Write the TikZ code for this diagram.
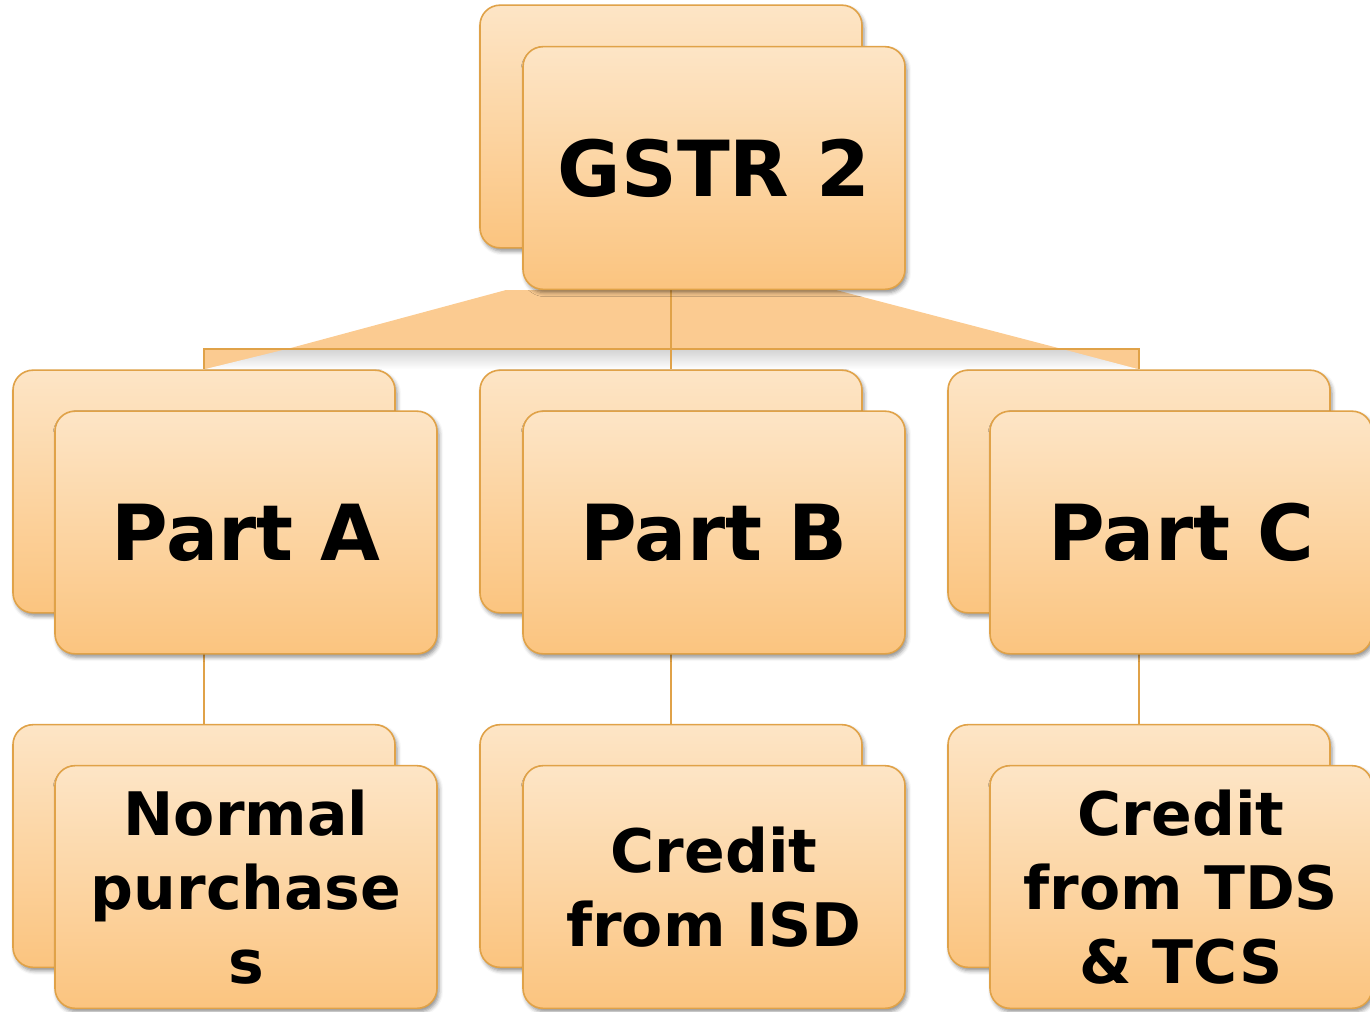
\documentclass[tikz,border=0pt]{standalone}
\usepackage{fontspec}
\setmainfont{DejaVu Sans}
\usetikzlibrary{shadows.blur}
\definecolor{cardtop}{HTML}{FDE5C6}
\definecolor{cardbot}{HTML}{FBC47F}
\definecolor{cardline}{HTML}{E0A248}
\definecolor{fanfill}{HTML}{FBCB91}
\pgfdeclarelayer{bg}
\pgfsetlayers{bg,main}
\begin{document}
\begin{tikzpicture}[x=0.75pt,y=-0.75pt,
  card/.style={rectangle, rounded corners=15pt, draw=cardline, line width=1.2pt,
    top color=cardtop, bottom color=cardbot,
    minimum width=286.5pt, minimum height=182pt, inner sep=0pt,
    blur shadow={shadow xshift=1.5pt, shadow yshift=-2.5pt, shadow blur radius=3pt, shadow opacity=45}},
  big/.style={font=\fontsize{58}{64}\selectfont\bfseries},
  small/.style={font=\fontsize{45}{55.5}\selectfont\bfseries, align=center},
  link/.style={draw=cardline, line width=1.2pt}]
\useasboundingbox (0,0) rectangle (1370,1011);

% top
\node[card] (gB) at (671,126.5) {};
\node[card,big] (g) at (714,168) {GSTR 2};
% row 2
\node[card] (aB) at (204,491.5) {};
\node[card,big] (a) at (246,532.5) {Part A};
\node[card] (bB) at (671,491.5) {};
\node[card,big] (b) at (714,532.5) {Part B};
\node[card] (cB) at (1139,491.5) {};
\node[card,big] (c) at (1181,532.5) {Part C};
% row 3
\node[card] (aaB) at (204,846) {};
\node[card,small] (aa) at (246,887) {Normal\\purchase\\s};
\node[card] (bbB) at (671,846) {};
\node[card,small] (bb) at (714,887) {Credit\\from ISD};
\node[card] (ccB) at (1139,846) {};
\node[card,small] (cc) at (1181,887) {Credit\\from TDS\\\& TCS};

\begin{pgfonlayer}{bg}
  \coordinate (bar) at (671,349);
  \fill[fanfill] (aB.north |- bar) rectangle (cB.north);
  \shade[top color=gray!35, middle color=gray!60, bottom color=white]
    (287,349) -- (1062,349) -- (cB.north) -- (aB.north) -- cycle;
  \fill[fanfill] (506,290) -- (836,290) -- (1062,349) -- (287,349) -- cycle;
  \draw[link] (aB.north) -- (aB.north |- bar) -- (cB.north |- bar) -- (cB.north);
  \draw[link] (gB.south) -- (bB.north);
  \draw[link] (aB.south) -- (aaB.north);
  \draw[link] (bB.south) -- (bbB.north);
  \draw[link] (cB.south) -- (ccB.north);
\end{pgfonlayer}
\end{tikzpicture}
\end{document}
